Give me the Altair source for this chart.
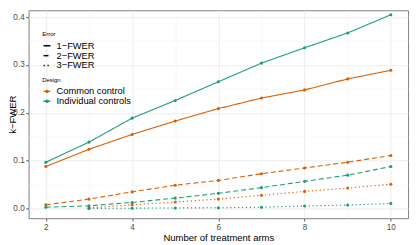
import altair as alt
import pandas as pd

arms = [2, 3, 4, 5, 6, 7, 8, 9, 10]
cc_1fwer = [0.088, 0.124, 0.155, 0.183, 0.209, 0.231, 0.248, 0.271, 0.289]
ic_1fwer = [0.097, 0.139, 0.189, 0.226, 0.265, 0.304, 0.336, 0.367, 0.405]
cc_2fwer = [0.008, 0.020, 0.035, 0.049, 0.059, 0.073, 0.085, 0.097, 0.111]
ic_2fwer = [0.003, 0.006, 0.013, 0.022, 0.032, 0.044, 0.057, 0.070, 0.088]
arms_3 = [3, 4, 5, 6, 7, 8, 9, 10]
cc_3fwer = [0.0015, 0.008, 0.014, 0.020, 0.028, 0.036, 0.043, 0.051]
ic_3fwer = [0.0005, 0.001, 0.0015, 0.0018, 0.003, 0.0055, 0.0075, 0.011]

designs = ["Common control", "Individual controls"]
errors = ["1\u2212FWER", "2\u2212FWER", "3\u2212FWER"]
colors = ["#D95F02", "#1B9E77"]

rows = []
for d, e, xs, ys in [
    (designs[0], errors[0], arms, cc_1fwer),
    (designs[1], errors[0], arms, ic_1fwer),
    (designs[0], errors[1], arms, cc_2fwer),
    (designs[1], errors[1], arms, ic_2fwer),
    (designs[0], errors[2], arms_3, cc_3fwer),
    (designs[1], errors[2], arms_3, ic_3fwer),
]:
    for x, y in zip(xs, ys):
        rows.append({"Design": d, "Error": e, "arms": x, "kfwer": y})
df = pd.DataFrame(rows)

FONT = "Liberation Sans"
xdom = [1.6, 10.4]
ydom = [-0.0199, 0.4143]

xscale = alt.Scale(domain=xdom, nice=False, zero=False)
yscale = alt.Scale(domain=ydom, nice=False, zero=False)

minor = alt.Chart(df).mark_point(opacity=0).encode(
    x=alt.X("arms:Q", scale=xscale,
            axis=alt.Axis(orient="bottom", values=[3, 5, 7, 9], grid=True, labels=False,
                          ticks=False, domain=False, title=None,
                          gridColor="#f2f2f2", gridWidth=0.6)),
    y=alt.Y("kfwer:Q", scale=yscale,
            axis=alt.Axis(orient="left", values=[0.05, 0.15, 0.25, 0.35], grid=True, labels=False,
                          ticks=False, domain=False, title=None,
                          gridColor="#f2f2f2", gridWidth=0.6)),
)

dot_line = "M-1,0L1,0M-0.32,0A0.32,0.32,0,1,1,0.32,0A0.32,0.32,0,1,1,-0.32,0Z"

design_legend = alt.Legend(orient="none", legendX=14, legendY=68.5,
                           title="Design", titleFont=FONT, titleFontSize=6,
                           titleFontWeight="normal", titlePadding=3.5,
                           labelFont=FONT, labelFontSize=9.5, labelColor="black",
                           symbolType=dot_line, symbolSize=49, symbolStrokeWidth=1.3,
                           symbolDash=[1, 0],
                           rowPadding=-2.1, labelOffset=5, padding=0)

lines = alt.Chart(df).mark_line(strokeWidth=1.1).encode(
    x=alt.X("arms:Q", scale=xscale,
            axis=alt.Axis(orient="bottom", values=[2, 4, 6, 8, 10], grid=True,
                          gridColor="#ebebeb", gridWidth=0.9, domain=False,
                          tickColor="#333333", tickSize=3, tickWidth=0.8,
                          labelColor="#4d4d4d", labelFontSize=8.3, labelPadding=1.5,
                          labelFont=FONT, title="Number of treatment arms",
                          titleFont=FONT, titleFontSize=9.7, titleFontWeight="normal",
                          titleColor="black", titlePadding=2)),
    y=alt.Y("kfwer:Q", scale=yscale,
            axis=alt.Axis(orient="left", values=[0, 0.1, 0.2, 0.3, 0.4], format=".1f", grid=True,
                          gridColor="#ebebeb", gridWidth=0.9, domain=False,
                          tickColor="#333333", tickSize=3, tickWidth=0.8,
                          labelColor="#4d4d4d", labelFontSize=8.3, labelPadding=1.5,
                          labelFont=FONT, title="k\u2212FWER",
                          titleFont=FONT, titleFontSize=9.7, titleFontWeight="normal",
                          titleColor="black", titleX=-13.5, titleBaseline="alphabetic")),
    color=alt.Color("Design:N", scale=alt.Scale(domain=designs, range=colors),
                    legend=design_legend),
    strokeDash=alt.StrokeDash("Error:N",
                              scale=alt.Scale(domain=errors, range=[[1, 0], [5, 3], [1.3, 2.7]]),
                              legend=alt.Legend(orient="none", legendX=14, legendY=21.5,
                                                title="Error", titleFont=FONT, titleFontSize=6,
                                                titleFontWeight="normal", titlePadding=4,
                                                labelFont=FONT, labelFontSize=9.5, labelColor="black",
                                                symbolType="stroke", symbolSize=49,
                                                symbolStrokeWidth=1.5, symbolStrokeColor="black",
                                                rowPadding=-2.1, labelOffset=5, padding=0)),
)

points = alt.Chart(df).mark_point(filled=True, size=10, opacity=1).encode(
    x=alt.X("arms:Q", scale=xscale, axis=None),
    y=alt.Y("kfwer:Q", scale=yscale, axis=None),
    color=alt.Color("Design:N", scale=alt.Scale(domain=designs, range=colors),
                    legend=design_legend),
)

chart = alt.layer(minor, lines, points).resolve_axis(
    x="independent", y="independent"
).properties(
    width=387, height=212,
    autosize=alt.AutoSizeParams(type="none"),
    padding={"left": 21, "top": 0, "right": 4, "bottom": 25},
).configure_view(stroke="#7f7f7f", strokeWidth=1)

chart.save("out.html", embed_options={"renderer": "svg", "actions": False})
